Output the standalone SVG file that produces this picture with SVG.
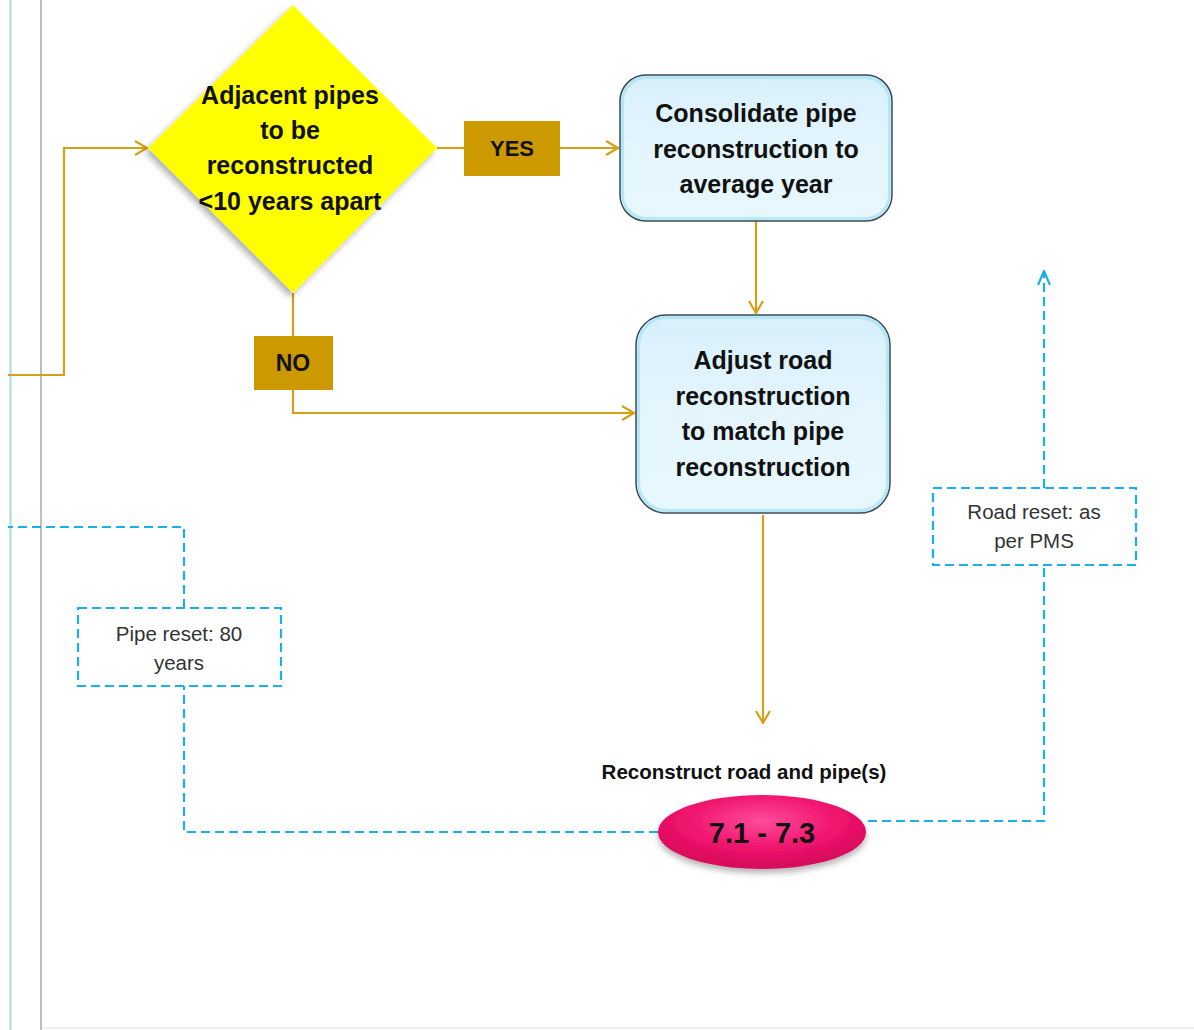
<svg xmlns="http://www.w3.org/2000/svg" width="1194" height="1030" viewBox="0 0 1194 1030">
<style>
.gold{fill:none;stroke:#D4A017;stroke-width:2.2}
.blue{fill:none;stroke:#1AB0EE;stroke-width:2.2;stroke-dasharray:9 5}
.b{font-family:"Liberation Sans",Arial,sans-serif;font-weight:bold;fill:#111;text-anchor:middle}
.r{font-family:"Liberation Sans",Arial,sans-serif;fill:#333;text-anchor:middle;font-size:20.5px}
</style>
<defs>
<marker id="ag" viewBox="0 0 14 16" refX="13" refY="8" markerWidth="14" markerHeight="16" markerUnits="userSpaceOnUse" orient="auto">
<path d="M1,1 L13,8 L1,15" fill="none" stroke="#D4A017" stroke-width="2.2"/>
</marker>
<marker id="ab" viewBox="0 0 16 14" refX="15" refY="7" markerWidth="16" markerHeight="14" markerUnits="userSpaceOnUse" orient="auto">
<path d="M1,1 L15,7 L1,13" fill="none" stroke="#1AB0EE" stroke-width="2.2"/>
</marker>
<linearGradient id="lb" x1="0" y1="0" x2="0" y2="1">
<stop offset="0" stop-color="#D8F0FB"/><stop offset="0.5" stop-color="#E4F5FD"/><stop offset="1" stop-color="#E8F7FE"/>
</linearGradient>
<radialGradient id="pk" cx="0.5" cy="0.35" r="0.6">
<stop offset="0" stop-color="#FF4C9A"/><stop offset="0.6" stop-color="#F0146E"/><stop offset="1" stop-color="#D80A5C"/>
</radialGradient>
<filter id="sh" x="-20%" y="-20%" width="140%" height="140%">
<feDropShadow dx="-3" dy="4" stdDeviation="3" flood-color="#000" flood-opacity="0.3"/>
</filter>
<filter id="sh2" x="-20%" y="-20%" width="140%" height="150%">
<feDropShadow dx="0" dy="4" stdDeviation="3" flood-color="#000" flood-opacity="0.3"/>
</filter>
</defs>
<rect width="1194" height="1030" fill="#fff"/>
<g id="frame">
<line x1="10.5" y1="0" x2="10.5" y2="1030" stroke="#A6DCE3" stroke-width="2"/>
<line x1="41" y1="0" x2="41" y2="1030" stroke="#BEBEBE" stroke-width="2"/>
<line x1="42" y1="1028" x2="1194" y2="1028" stroke="#EEEEEE" stroke-width="2"/>
</g>
<g id="connectors">
<polyline class="gold" points="8,375 64,375 64,148 147,148" marker-end="url(#ag)"/>
<line class="gold" x1="437" y1="148" x2="464" y2="148"/>
<line class="gold" x1="560" y1="148" x2="618" y2="148" marker-end="url(#ag)"/>
<line class="gold" x1="756" y1="221" x2="756" y2="313" marker-end="url(#ag)"/>
<line class="gold" x1="293" y1="293" x2="293" y2="336"/>
<polyline class="gold" points="293,390 293,413 634,413" marker-end="url(#ag)"/>
<line class="gold" x1="763" y1="515" x2="763" y2="723" marker-end="url(#ag)"/>
<polyline class="blue" points="658,832 184,832 184,686"/>
<polyline class="blue" points="184,608 184,527 8,527"/>
<polyline class="blue" points="868,821 1044,821 1044,565"/>
<polyline class="blue" points="1044,488 1044,271" marker-end="url(#ab)"/>
</g>
<g id="decision">
<polygon points="293,5 437,148 293,293 148,148" fill="#FFFF00" filter="url(#sh)"/>
<text class="b" font-size="25"><tspan x="290" y="104">Adjacent pipes</tspan><tspan x="290" y="139">to be</tspan><tspan x="290" y="174">reconstructed</tspan><tspan x="290" y="210">&lt;10 years apart</tspan></text>
</g>
<g id="yes">
<rect x="464" y="121" width="96" height="55" fill="#CC9900"/>
<text class="b" font-size="22" x="512" y="156">YES</text>
</g>
<g id="no">
<rect x="254" y="336" width="79" height="54" fill="#CC9900"/>
<text class="b" font-size="23" x="293" y="371">NO</text>
</g>
<g id="consolidate">
<rect x="620" y="75" width="272" height="146" rx="26" fill="url(#lb)" stroke="#3C4A52" stroke-width="1.5"/>
<rect x="622.5" y="77.5" width="267" height="141" rx="24" fill="none" stroke="#A8E4F7" stroke-width="3" opacity="0.8"/>
<text class="b" font-size="25"><tspan x="756" y="122">Consolidate pipe</tspan><tspan x="756" y="158">reconstruction to</tspan><tspan x="756" y="193">average year</tspan></text>
</g>
<g id="adjust">
<rect x="636" y="315" width="254" height="198" rx="30" fill="url(#lb)" stroke="#3C4A52" stroke-width="1.5"/>
<rect x="638.5" y="317.5" width="249" height="193" rx="28" fill="none" stroke="#A8E4F7" stroke-width="3" opacity="0.8"/>
<text class="b" font-size="25"><tspan x="763" y="369">Adjust road</tspan><tspan x="763" y="405">reconstruction</tspan><tspan x="763" y="440">to match pipe</tspan><tspan x="763" y="476">reconstruction</tspan></text>
</g>
<g id="reconstruct">
<text class="b" font-size="20.5" x="744" y="779">Reconstruct road and pipe(s)</text>
<ellipse cx="762" cy="832" rx="104" ry="37" fill="url(#pk)" filter="url(#sh2)"/>
<text class="b" font-size="29" x="762" y="843">7.1 - 7.3</text>
</g>
<g id="pipe-reset">
<rect x="78" y="608" width="203" height="78" fill="#fff" class="blue"/>
<text class="r"><tspan x="179" y="641">Pipe reset: 80</tspan><tspan x="179" y="670">years</tspan></text>
</g>
<g id="road-reset">
<rect x="933" y="488" width="203" height="77" fill="#fff" class="blue"/>
<text class="r"><tspan x="1034" y="519">Road reset: as</tspan><tspan x="1034" y="548">per PMS</tspan></text>
</g>
</svg>
